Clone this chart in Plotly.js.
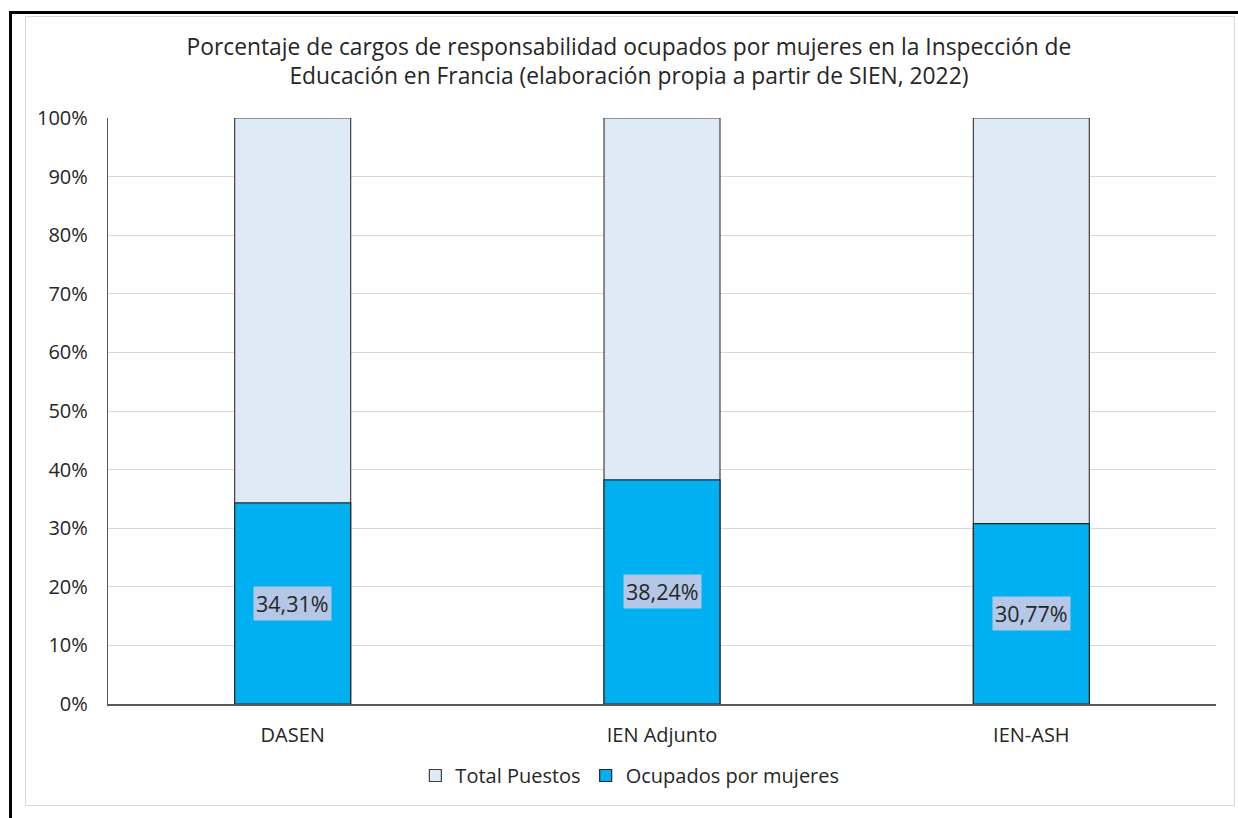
<!DOCTYPE html>
<html>
<head>
<meta charset="utf-8">
<script src="https://cdn.plot.ly/plotly-3.0.1.min.js"></script>
<style>
  html, body { margin: 0; padding: 0; background: #fff; width: 1238px; height: 818px; overflow: hidden; }
  #frame { position: absolute; left: 9px; top: 11px; width: 1240px; height: 820px;
           border-top: 3px solid #000; border-left: 3px solid #000; }
  #box { position: absolute; left: 25px; top: 16px; width: 1208px; height: 788px;
         border: 1.5px solid #d9d9d9; }
  #chart { position: absolute; left: 0; top: 0; width: 1238px; height: 818px; }
</style>
</head>
<body>
<div id="frame"></div>
<div id="box"></div>
<div id="chart"></div>
<script>
const categories = ["DASEN", "IEN Adjunto", "IEN-ASH"];
const totalValues = [100, 100, 100];
const womenValues = [34.31, 38.24, 30.77];
const seriesNames = ["Total Puestos", "Ocupados por mujeres"];
const titleText = "Porcentaje de cargos de responsabilidad ocupados por mujeres en la Inspección de<br>Educación en Francia (elaboración propia a partir de SIEN, 2022)";

const FONT = "'Open Sans', Lato, sans-serif";

const traces = [
  {
    type: "bar", name: seriesNames[0], x: categories, y: totalValues,
    marker: { color: "#DEEBF7", line: { color: "#404040", width: 1.2 } },
    width: 0.314, hoverinfo: "skip"
  },
  {
    type: "bar", name: seriesNames[1], x: categories, y: womenValues,
    marker: { color: "#00B0F0", line: { color: "#262626", width: 1.2 } },
    width: 0.314, hoverinfo: "skip"
  }
];

const annotations = categories.map((c, i) => ({
  x: c, y: womenValues[i] / 2, xref: "x", yref: "y",
  text: womenValues[i].toFixed(2).replace(".", ",") + "%",
  showarrow: false, bgcolor: "#B4C7E7", borderpad: 2,
  font: { family: FONT, size: 21.5, color: "#262626" }
}));

const layout = {
  width: 1238, height: 818,
  paper_bgcolor: "rgba(0,0,0,0)", plot_bgcolor: "rgba(0,0,0,0)",
  margin: { l: 108, r: 22, t: 118, b: 114 },
  barmode: "overlay",
  showlegend: true,
  font: { family: FONT, color: "#262626" },
  title: {
    text: titleText, xref: "container", yref: "container",
    x: 0.508, xanchor: "center", y: 0.933, yanchor: "middle",
    font: { family: FONT, size: 22.8, color: "#262626" }
  },
  xaxis: {
    type: "category", range: [-0.5, 2.5],
    showgrid: false, zeroline: false,
    showline: true, linecolor: "#595959", linewidth: 1.5,
    ticks: "", ticklabelstandoff: 12,
    tickfont: { family: FONT, size: 20, color: "#262626" }
  },
  yaxis: {
    range: [0, 100], dtick: 10, ticksuffix: "%",
    showgrid: true, gridcolor: "#d9d9d9", gridwidth: 1,
    zeroline: false, showline: true, linecolor: "#595959", linewidth: 1.2,
    ticks: "", ticklabelstandoff: 15,
    tickfont: { family: FONT, size: 20, color: "#262626" }
  },
  legend: {
    orientation: "h", x: 0.471, xanchor: "center", y: -0.122, yanchor: "middle",
    font: { family: FONT, size: 20, color: "#262626" },
    traceorder: "normal", itemwidth: 30, bgcolor: "rgba(0,0,0,0)"
  },
  annotations: annotations
};

Plotly.newPlot("chart", traces, layout, { staticPlot: true, displayModeBar: false });
</script>
</body>
</html>
